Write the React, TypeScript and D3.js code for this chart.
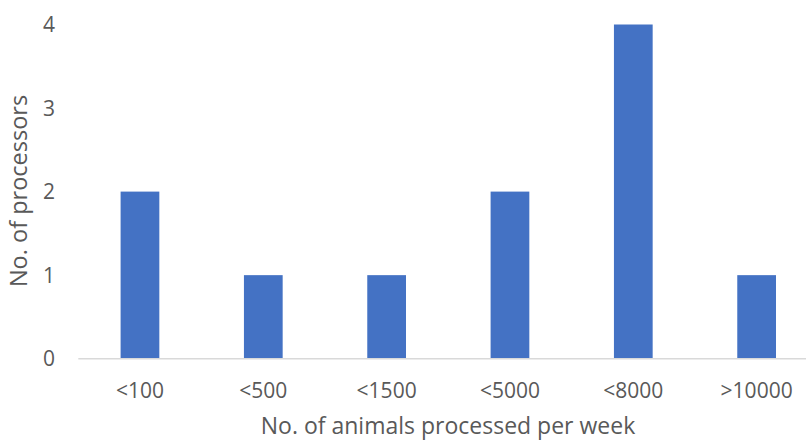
import React from "react";
import * as d3 from "d3";

const categories = ["<100", "<500", "<1500", "<5000", "<8000", ">10000"];
const values = [2, 1, 1, 2, 4, 1];
const yTicks = [0, 1, 2, 3, 4];
const xTitle = "No. of animals processed per week";
const yTitle = "No. of processors";

const W = 806;
const H = 441;
const FONT = "'Open Sans', sans-serif";
const TEXT = "#595959";

export default function App() {
  const x = d3
    .scaleBand<string>()
    .domain(categories)
    .range([78.3, 818.3])
    .paddingInner(0.686)
    .paddingOuter(0.343);
  const y = d3.scaleLinear().domain([0, 4]).range([358.7, 24.5]);

  return (
    <svg
      width={W}
      height={H}
      style={{ position: "absolute", left: 0, top: 0, background: "#fff" }}
    >
      {values.map((v, i) => (
        <rect
          key={categories[i]}
          x={x(categories[i])}
          y={y(v)}
          width={x.bandwidth()}
          height={y(0) - y(v)}
          fill="#4472C4"
        />
      ))}
      <line x1={78.3} x2={W} y1={y(0)} y2={y(0)} stroke="#D9D9D9" strokeWidth={1.5} />
      {yTicks.map((t) => (
        <text
          key={t}
          x={55}
          y={y(t)}
          dy="0.36em"
          textAnchor="end"
          fontFamily={FONT}
          fontSize={21}
          fill={TEXT}
        >
          {t}
        </text>
      ))}
      {categories.map((c) => (
        <text
          key={c}
          x={(x(c) as number) + x.bandwidth() / 2}
          y={398}
          textAnchor="middle"
          fontFamily={FONT}
          fontSize={21}
          fill={TEXT}
        >
          {c}
        </text>
      ))}
      <text
        x={448}
        y={434}
        textAnchor="middle"
        fontFamily={FONT}
        fontSize={23}
        fill={TEXT}
      >
        {xTitle}
      </text>
      <text
        transform={`translate(27,191) rotate(-90)`}
        textAnchor="middle"
        fontFamily={FONT}
        fontSize={23.5}
        fill={TEXT}
      >
        {yTitle}
      </text>
    </svg>
  );
}
